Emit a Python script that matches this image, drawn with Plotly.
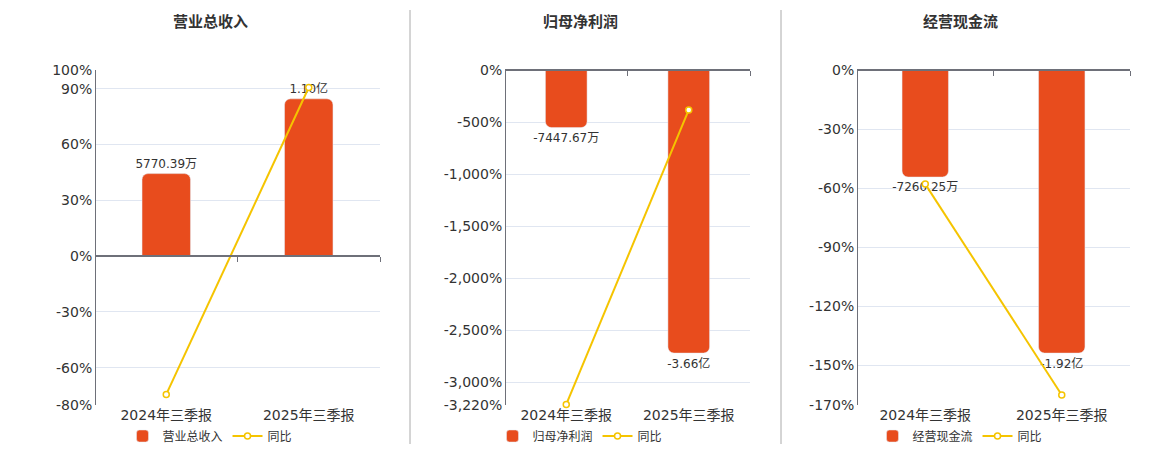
import plotly.graph_objects as go

# data
periods = ["2024年三季报", "2025年三季报"]

titles = ["营业总收入", "归母净利润", "经营现金流"]

# bar values in 亿 (labels shown as 万 / 亿)
revenue = [0.577039, 1.10]
net_profit = [-0.744767, -3.66]
cash_flow = [-0.726025, -1.92]

revenue_text = ["5770.39万", "1.10亿"]
net_profit_text = ["-7447.67万", "-3.66亿"]
cash_flow_text = ["-7260.25万", "-1.92亿"]

# 同比 (%)
revenue_yoy = [-74.3, 90.6]
net_profit_yoy = [-3215, -384]
cash_flow_yoy = [-57.9, -164.9]

# y tick labels (%)
revenue_ticks = [100, 90, 60, 30, 0, -30, -60, -80]
net_profit_ticks = [0, -500, -1000, -1500, -2000, -2500, -3000, -3220]
cash_flow_ticks = [0, -30, -60, -90, -120, -150, -170]

BAR = "#E84C1D"
LINE = "#F5C400"
AXIS = "#6E7079"
GRID = "#E0E6F1"
TXT = "#333333"
FONT = "DejaVu Sans, Noto Sans CJK SC, sans-serif"

W, H = 1160, 450
panels = [
    dict(title=titles[0], bars=revenue, text=revenue_text, yoy=revenue_yoy,
         ticks=revenue_ticks, dom=(95, 380), center=210),
    dict(title=titles[1], bars=net_profit, text=net_profit_text, yoy=net_profit_yoy,
         ticks=net_profit_ticks, dom=(505, 750), center=580),
    dict(title=titles[2], bars=cash_flow, text=cash_flow_text, yoy=cash_flow_yoy,
         ticks=cash_flow_ticks, dom=(857, 1130), center=960),
]

ydom = [1 - 405 / H, 1 - 70 / H]

fig = go.Figure()
layout = {}
annotations = []

for i, p in enumerate(panels):
    n = i + 1
    xa, xb = f"x{2 * n - 1}", f"x{2 * n}"
    ya, yb = f"y{2 * n - 1}", f"y{2 * n}"
    xk = lambda s: "xaxis" + s[1:]
    yk = lambda s: "yaxis" + s[1:]
    leg = "legend" if n == 1 else f"legend{n}"

    lo, hi = min(p["ticks"]), max(p["ticks"])
    # bar axis aligned on zero with the percent axis
    big = max(abs(v) for v in p["bars"])
    side = hi if max(p["bars"]) > 0 else -lo
    s = big / (0.845 * side)
    zero_frac = ydom[0] + (ydom[1] - ydom[0]) * (0 - lo) / (hi - lo)
    xdom = [p["dom"][0] / W, p["dom"][1] / W]

    fig.add_trace(go.Bar(
        x=periods, y=p["bars"], text=p["text"], name=p["title"],
        xaxis=xa, yaxis=ya, marker_color=BAR, textposition="outside",
        textfont=dict(size=12, color=TXT), cliponaxis=False,
        constraintext="none", legend=leg, hoverinfo="x+text",
    ))
    fig.add_trace(go.Scatter(
        x=periods, y=p["yoy"], name="同比", mode="lines+markers",
        xaxis=xb, yaxis=yb, line=dict(color=LINE, width=2),
        marker=dict(size=6, color="white", line=dict(color=LINE, width=1.5)),
        cliponaxis=False, legend=leg,
    ))

    layout[xk(xa)] = dict(
        domain=xdom, anchor=ya, type="category", range=[-0.5, 1.5],
        showline=False, showgrid=False, ticks="",
        tickfont=dict(size=14, color=TXT), fixedrange=True,
    )
    layout[yk(ya)] = dict(
        domain=ydom, anchor=xa, range=[lo * s, hi * s], visible=False,
        showgrid=False, zeroline=False, fixedrange=True,
    )
    layout[xk(xb)] = dict(
        overlaying=xa, anchor="free", position=zero_frac, type="category",
        range=[-0.5, 1.5], showline=True, linecolor=AXIS, linewidth=2,
        ticks="outside", tickson="boundaries", ticklen=5, tickcolor=AXIS,
        showticklabels=False, showgrid=False, fixedrange=True,
    )
    layout[yk(yb)] = dict(
        overlaying=ya, anchor="free", position=xdom[0], side="left",
        range=[lo, hi], tickvals=p["ticks"],
        ticktext=[f"{v:,}%" for v in p["ticks"]],
        tickfont=dict(size=14, color=TXT), showline=True, linecolor=AXIS,
        linewidth=1, showgrid=True, gridcolor=GRID, gridwidth=1,
        zeroline=False, ticks="", fixedrange=True,
    )
    layout[leg] = dict(
        orientation="h", x=p["center"] / W, xanchor="center",
        y=1 - 436 / H, yanchor="middle", font=dict(size=12, color=TXT),
        bgcolor="rgba(0,0,0,0)", itemwidth=30, tracegroupgap=0,
    )
    annotations.append(dict(
        text=f"<b>{p['title']}</b>", x=p["center"] / W, y=1 - 22 / H,
        xref="paper", yref="paper", showarrow=False,
        font=dict(size=15, color=TXT), xanchor="center", yanchor="middle",
    ))

# panel dividers
shapes = [
    dict(type="line", xref="paper", yref="paper", x0=xp / W, x1=xp / W,
         y0=1 - 10 / H, y1=1 - 444 / H, line=dict(color="#AAAAAA", width=1))
    for xp in (410, 781)
]

fig.update_layout(
    width=W, height=H,
    margin=dict(l=0, r=0, t=0, b=0, autoexpand=False),
    paper_bgcolor="white", plot_bgcolor="white",
    font=dict(family=FONT, color=TXT),
    bargap=0.66, barcornerradius=6,
    annotations=annotations, shapes=shapes,
    **layout,
)

fig.write_html(
    "out.html",
    config={"displayModeBar": False},
    post_script="document.body.style.margin='0';",
)
